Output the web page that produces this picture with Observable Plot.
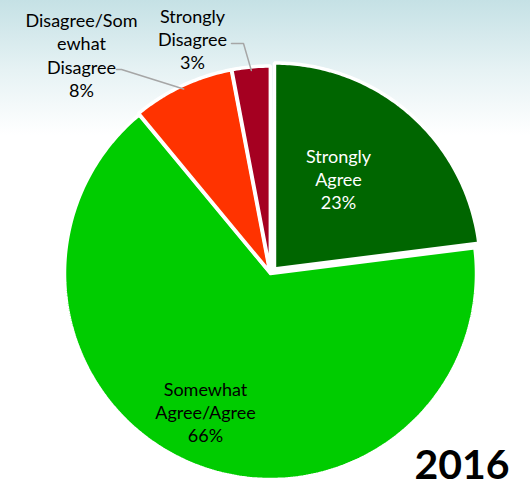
<!DOCTYPE html>
<html>
<head>
<meta charset="utf-8">
<script src="https://cdn.jsdelivr.net/npm/d3@7"></script>
<script src="https://cdn.jsdelivr.net/npm/@observablehq/plot@0.6"></script>
<style>
  html, body { margin: 0; padding: 0; }
  body { width: 530px; height: 490px; overflow: hidden;
         background: linear-gradient(to bottom, #c5e1e5 0px, #e6f2f4 70px, #ffffff 135px); }
  #chart svg { display: block; }
</style>
</head>
<body>
<div id="chart"></div>
<script>
// ---- data ----
const categories = ["Strongly Agree", "Somewhat Agree/Agree", "Disagree/Somewhat Disagree", "Strongly Disagree"];
const labelText = ["Strongly\nAgree", "Somewhat\nAgree/Agree", "Disagree/Som\newhat\nDisagree", "Strongly\nDisagree"];
const values = [23, 66, 8, 3];
const colors = ["#006600", "#00cc00", "#ff3300", "#a50021"];
const labelColors = ["#ffffff", "#000000", "#000000", "#000000"];
const year = "2016";

// ---- layout ----
const W = 530, H = 490;
const cx = 270, cy = 273, R = 206;
const explode = [6, 0, 1.5, 1.5];
const labelXY = [[338, 178], [205, 411], [81, 54], [192, 38]];
const leaderStart = [null, null, [[116, 69], [121, 69]], [[231, 43], [243, 43]]];

const total = d3.sum(values);
const arcs = d3.pie().sort(null).value(d => d)(values);

const slicePts = [];
arcs.forEach((a, i) => {
  const mid = (a.startAngle + a.endAngle) / 2;
  const ox = explode[i] * Math.sin(mid), oy = -explode[i] * Math.cos(mid);
  const ccx = cx + ox, ccy = cy + oy;
  const n = Math.max(8, Math.ceil((a.endAngle - a.startAngle) * 80));
  slicePts.push({k: i, x: ccx, y: ccy});
  for (let j = 0; j <= n; j++) {
    const t = a.startAngle + (a.endAngle - a.startAngle) * j / n;
    slicePts.push({k: i, x: ccx + R * Math.sin(t), y: ccy - R * Math.cos(t)});
  }
  slicePts.push({k: i, x: ccx, y: ccy});
});

const labels = arcs.map((a, i) => ({
  k: i,
  text: labelText[i] + "\n" + Math.round(values[i] / total * 100) + "%",
  x: labelXY[i][0], y: labelXY[i][1]
}));

const leaderPts = [];
arcs.forEach((a, i) => {
  if (!leaderStart[i]) return;
  const mid = (a.startAngle + a.endAngle) / 2;
  leaderStart[i].forEach(p => leaderPts.push({k: i, x: p[0], y: p[1]}));
  leaderPts.push({k: i, x: cx + (R - 2) * Math.sin(mid), y: cy - (R - 2) * Math.cos(mid)});
});

const chart = Plot.plot({
  width: W, height: H,
  margin: 0,
  style: {background: "transparent", fontFamily: "Lato, 'Open Sans', sans-serif", overflow: "visible"},
  x: {domain: [0, W], range: [0, W], axis: null},
  y: {domain: [0, H], range: [0, H], axis: null},
  marks: [
    Plot.line(slicePts, {
      x: "x", y: "y", z: "k",
      fill: d => colors[d.k],
      stroke: "#ffffff", strokeWidth: 3.5, strokeLinejoin: "miter", curve: "linear"
    }),
    Plot.line(leaderPts, {x: "x", y: "y", z: "k", stroke: "#a6a6a6", strokeWidth: 1.5}),
    Plot.text(labels, {
      x: "x", y: "y", text: "text",
      fill: d => labelColors[d.k],
      fontSize: 18, lineHeight: 1.3, textAnchor: "middle", lineAnchor: "middle"
    }),
    Plot.text([year], {
      frameAnchor: "bottom-right", text: d => d,
      dx: -21, dy: -12, lineAnchor: "bottom", textAnchor: "end",
      fontSize: 41, fontWeight: "bold", fill: "#000000"
    })
  ]
});
document.getElementById("chart").appendChild(chart);
</script>
</body>
</html>
